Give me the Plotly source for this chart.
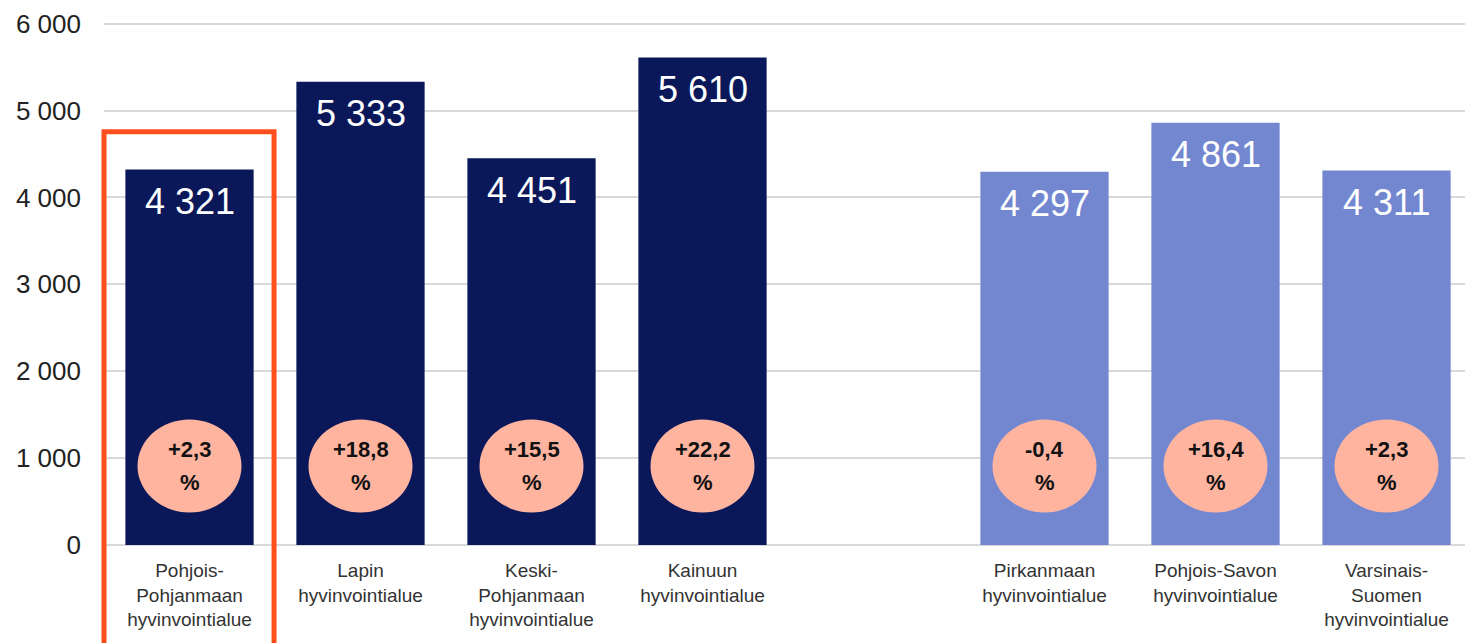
import plotly.graph_objects as go

categories = [
    "Pohjois-<br>Pohjanmaan<br>hyvinvointialue",
    "Lapin<br>hyvinvointialue",
    "Keski-<br>Pohjanmaan<br>hyvinvointialue",
    "Kainuun<br>hyvinvointialue",
    "Pirkanmaan<br>hyvinvointialue",
    "Pohjois-Savon<br>hyvinvointialue",
    "Varsinais-<br>Suomen<br>hyvinvointialue",
]
slots = [0, 1, 2, 3, 5, 6, 7]
values = [4321, 5333, 4451, 5610, 4297, 4861, 4311]
changes = ["+2,3", "+18,8", "+15,5", "+22,2", "-0,4", "+16,4", "+2,3"]
groups = ["dark", "dark", "dark", "dark", "light", "light", "light"]
y_ticks = [0, 1000, 2000, 3000, 4000, 5000, 6000]

DARK = "#0A1759"
LIGHT = "#7387D1"
CIRCLE = "#FFB4A0"
FONT = "Liberation Sans, Arial, sans-serif"

colors = [DARK if g == "dark" else LIGHT for g in groups]

fig = go.Figure()
fig.add_trace(go.Bar(
    x=slots, y=values, marker=dict(color=colors, line=dict(width=0)),
    width=0.75, hoverinfo="skip", showlegend=False,
))

def fmt(v):
    return f"{v:,}".replace(",", " ")

annotations = []
shapes = []
CIRCLE_Y = 910
for xs, v, c in zip(slots, values, changes):
    annotations.append(dict(
        x=xs, y=v, xref="x", yref="y", text=fmt(v), showarrow=False,
        yanchor="middle", yshift=-32, font=dict(color="white", size=36, family=FONT),
    ))
    shapes.append(dict(
        type="circle", xref="x", yref="y", xsizemode="pixel", ysizemode="pixel",
        xanchor=xs, yanchor=CIRCLE_Y, x0=-52, x1=52, y0=-46.5, y1=46.5,
        fillcolor=CIRCLE, line=dict(width=0), layer="above",
    ))
    annotations.append(dict(
        x=xs, y=CIRCLE_Y, xref="x", yref="y", text=f"<b>{c}</b>", showarrow=False,
        yanchor="middle", yshift=16, font=dict(color="#111", size=22, family=FONT),
    ))
    annotations.append(dict(
        x=xs, y=CIRCLE_Y, xref="x", yref="y", text="<b>%</b>", showarrow=False,
        yanchor="middle", yshift=-17, font=dict(color="#111", size=22, family=FONT),
    ))

# highlight box around first category
shapes.append(dict(
    type="rect", xref="paper", yref="paper", x0=0.0, x1=0.1243, y0=0.79, y1=-0.3,
    line=dict(color="#FF4F1F", width=5), fillcolor="rgba(0,0,0,0)", layer="above",
))

fig.update_layout(
    width=1465, height=635,
    margin=dict(l=96, r=1, t=14, b=98),
    paper_bgcolor="white", plot_bgcolor="white",
    separators=", ",
    font=dict(family=FONT),
    xaxis=dict(
        range=[-0.5, 7.5], tickvals=slots, ticktext=categories,
        showgrid=False, zeroline=False, showline=False, ticks="",
        automargin=False, ticklabelstandoff=12,
        tickfont=dict(size=19, color="#333", family=FONT),
    ),
    yaxis=dict(
        range=[0, 6020], tickvals=y_ticks, tickformat=",d",
        showgrid=True, gridcolor="#D9D9D9", gridwidth=2,
        zeroline=True, zerolinecolor="#D9D9D9", zerolinewidth=2,
        showline=False, ticks="", ticklabelstandoff=22, automargin=False,
        tickfont=dict(size=26, color="#222", family=FONT),
    ),
    annotations=annotations, shapes=shapes,
)

fig.write_html("out.html")
